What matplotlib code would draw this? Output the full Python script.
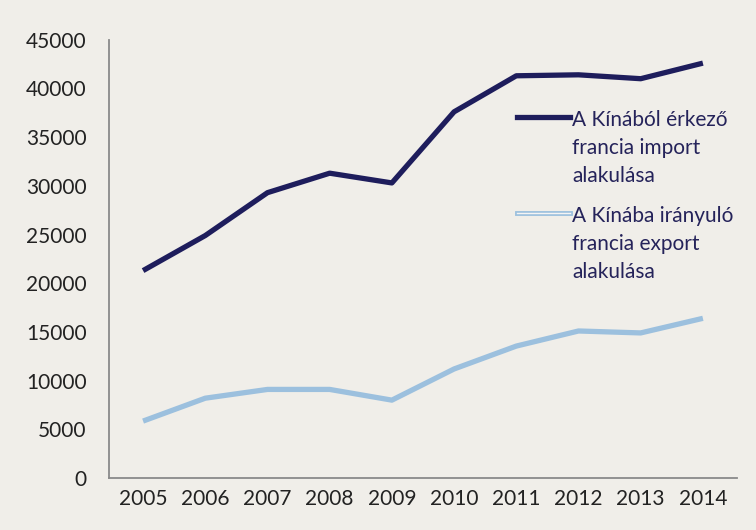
import matplotlib.pyplot as plt
from matplotlib.lines import Line2D
import matplotlib.patheffects as pe

# Data
years = ["2005", "2006", "2007", "2008", "2009", "2010", "2011", "2012", "2013", "2014"]
import_vals = [21300, 24900, 29300, 31300, 30300, 37600, 41300, 41400, 41000, 42600]
export_vals = [5850, 8200, 9100, 9100, 8000, 11200, 13550, 15100, 14900, 16400]
yticks = [0, 5000, 10000, 15000, 20000, 25000, 30000, 35000, 40000, 45000]

import_label = "A Kínából érkező\nfrancia import\nalakulása"
export_label = "A Kínába irányuló\nfrancia export\nalakulása"

BG = "#f0eee9"
NAVY = "#1e1d5c"
LIGHTBLUE = "#9cc0de"

plt.rcParams["font.family"] = ["Lato", "DejaVu Sans"]

fig = plt.figure(figsize=(7.56, 5.30), dpi=100, facecolor=BG)
ax = fig.add_axes([0.144, 0.098, 0.831, 0.827])
ax.set_facecolor(BG)

x = range(len(years))
ax.plot(x, import_vals, color=NAVY, linewidth=3.8, solid_capstyle="butt")
ax.plot(x, export_vals, color=LIGHTBLUE, linewidth=3.8, solid_capstyle="butt")

ax.set_xlim(-0.55, len(years) - 0.45)
ax.set_ylim(0, 45000)
ax.set_yticks(yticks)
ax.set_yticklabels([str(v) for v in yticks])
ax.set_xticks(list(x))
ax.set_xticklabels(years)
ax.tick_params(axis="both", length=0, labelsize=15, colors="#222222")
ax.tick_params(axis="y", pad=16)
ax.tick_params(axis="x", pad=8)

for side in ["top", "right"]:
    ax.spines[side].set_visible(False)
for side in ["left", "bottom"]:
    ax.spines[side].set_color("#8a8a8a")
    ax.spines[side].set_linewidth(1.3)

# legend drawn by hand so the line sits next to the first text row
def legend_entry(y_px, label, handle):
    yf = (530 - y_px) / 530
    handle.set_data([517 / 756, 570 / 756], [yf, yf])
    handle.set_transform(fig.transFigure)
    fig.add_artist(handle)
    fig.text(572 / 756, yf + 7 / 530, label, fontsize=15, color="#25235a",
             va="top", ha="left", linespacing=1.5,
             transform=fig.transFigure)

legend_entry(117, import_label, Line2D([], [], color=NAVY, linewidth=3.8))
legend_entry(213, export_label,
             Line2D([], [], color="#f4f4f4", linewidth=1,
                    path_effects=[pe.Stroke(linewidth=3.5, foreground=LIGHTBLUE), pe.Normal()]))

fig.savefig("out.png", dpi=100, facecolor=BG)
